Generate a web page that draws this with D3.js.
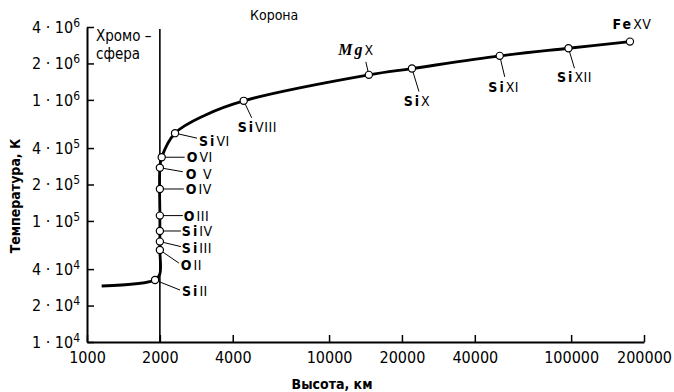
<!DOCTYPE html>
<html><head><meta charset="utf-8">
<script src="https://cdn.jsdelivr.net/npm/d3@7"></script>
<style>
html,body{margin:0;padding:0;background:#fff;}
svg{display:block;}
</style></head>
<body>
<svg id="chart" width="674" height="392"></svg>
<script>
// ---- data ----
const xTickValues = [1000, 2000, 4000, 10000, 20000, 40000, 100000, 200000];
const yTickValues = [1e4, 2e4, 4e4, 1e5, 2e5, 4e5, 1e6, 2e6, 4e6];

const ionNames   = ["Si II","O II","Si III","Si IV","O III","O IV","O  V","O VI","Si VI","Si VIII","Mg X","Si X","Si XI","Si XII","Fe XV"];
const ionHeights = [1910, 2000, 2000, 2000, 2000, 2000, 2000, 2035, 2310, 4440, 14600, 22000, 50700, 97500, 175000];
const ionTemps   = [32500, 57500, 67500, 82600, 110700, 183600, 275000, 336000, 531000, 982000, 1610000, 1815000, 2310000, 2670000, 3030000];

// traced temperature curve
const curveHeights = [1150, 1910, 2000, 2000, 2000, 2000, 2035, 2310, 3090, 4440, 14600, 22000, 50700, 97500, 175000];
const curveTemps   = [29000, 32500, 36500, 57500, 110000, 275000, 336000, 531000, 751000, 982000, 1610000, 1815000, 2310000, 2670000, 3030000];

const boundaryHeight = 2000;

// ---- layout ----
const FONT = "'DejaVu Sans Condensed','Liberation Sans Narrow',sans-serif";
const svg = d3.select("#chart");
svg.append("rect").attr("width",674).attr("height",392).attr("fill","#fff");

const x = d3.scaleLog().domain([1000, 200000]).range([87, 644]);
const y = d3.scaleLog().domain([1e4, 4e6]).range([342, 27]);

// x axis
const xAxis = d3.axisBottom(x).tickValues(xTickValues).tickFormat(d3.format("d"))
  .tickSizeInner(-7).tickSizeOuter(0).tickPadding(10);
const gx = svg.append("g").attr("transform","translate(0,342)").call(xAxis);
gx.select(".domain").attr("stroke","#000").attr("stroke-width",2);
gx.selectAll(".tick line").attr("stroke","#000").attr("stroke-width",1.5);
gx.selectAll(".tick text").attr("font-family",FONT).attr("font-size",16).attr("fill","#000");

// y axis
const yAxis = d3.axisLeft(y).tickValues(yTickValues).tickFormat("")
  .tickSizeInner(-7).tickSizeOuter(0);
const gy = svg.append("g").attr("transform","translate(87,0)").call(yAxis);
gy.select(".domain").attr("stroke","#000").attr("stroke-width",2);
gy.selectAll(".tick line").attr("stroke","#000").attr("stroke-width",1.5);
gy.selectAll(".tick").each(function(d){
  const e = Math.floor(Math.log10(d) + 1e-9);
  const m = Math.round(d / Math.pow(10, e));
  const t = d3.select(this).append("text")
    .attr("x",-7).attr("dy","0.32em").attr("text-anchor","end")
    .attr("font-family",FONT).attr("font-size",16).attr("fill","#000");
  t.append("tspan").text(m + " · 10");
  t.append("tspan").attr("dy","-0.5em").attr("font-size",12).text(e);
});

// chromosphere / corona boundary
svg.append("line")
  .attr("x1",x(boundaryHeight)).attr("x2",x(boundaryHeight))
  .attr("y1",29).attr("y2",342).attr("stroke","#000").attr("stroke-width",1.6);

// region labels
svg.append("text").attr("x",96).attr("y",41).attr("font-family",FONT).attr("font-size",15).text("Хромо –");
svg.append("text").attr("x",96).attr("y",59).attr("font-family",FONT).attr("font-size",15).text("сфера");
svg.append("text").attr("x",250).attr("y",20).attr("font-family",FONT).attr("font-size",14).text("Корона");

// axis titles
svg.append("text").attr("transform","translate(20,196) rotate(-90)").attr("text-anchor","middle")
  .attr("font-family",FONT).attr("font-size",14).attr("font-weight","bold").text("Температура, К");
svg.append("text").attr("x",332).attr("y",389).attr("text-anchor","middle")
  .attr("font-family",FONT).attr("font-size",14).attr("font-weight","bold").text("Высота, км");

// curve
const curvePts = curveHeights.map((h,i)=>[h, curveTemps[i]]);
const line = d3.line().x(d=>x(d[0])).y(d=>y(d[1])).curve(d3.curveCatmullRom.alpha(0.5));
svg.append("path").attr("d",line(curvePts)).attr("fill","none")
  .attr("stroke","#000").attr("stroke-width",2.8).attr("stroke-linejoin","round");

// label layout: [dx, dy, anchor, leaderDx, leaderDy]
const labelLayout = [
  [27, 11, "start", 25, 10],
  [21, 15, "start", 19, 13],
  [22, 6, "start", 21, 5],
  [22, 0, "start", 21, 0],
  [24, 0, "start", 23, 0],
  [26, 0, "start", 24, 0],
  [26, 6, "start", 23, 4],
  [25, 0, "start", 23, 0],
  [24, 8, "start", 22, 5],
  [-6, 26, "start", 8, 17],
  [-13, -25, "middle", -3, -13],
  [5, 32, "middle", 7, 23],
  [4, 31, "middle", 5, 21],
  [6, 29, "middle", 6, 20],
  [2, -18, "middle", null, null]
];

const ions = ionNames.map((n,i)=>({name:n, cx:x(ionHeights[i]), cy:y(ionTemps[i]), L:labelLayout[i]}));

svg.append("g").selectAll("line").data(ions.filter(d=>d.L[3]!==null)).join("line")
  .attr("x1",d=>d.cx).attr("y1",d=>d.cy)
  .attr("x2",d=>d.cx+d.L[3]).attr("y2",d=>d.cy+d.L[4])
  .attr("stroke","#000").attr("stroke-width",1);

svg.append("g").selectAll("circle").data(ions).join("circle")
  .attr("cx",d=>d.cx).attr("cy",d=>d.cy).attr("r",3.6)
  .attr("fill","#fff").attr("stroke","#000").attr("stroke-width",1.2);

const labels = svg.append("g").selectAll("text").data(ions).join("text")
  .attr("x",d=>d.cx+d.L[0]).attr("y",d=>d.cy+d.L[1]).attr("dy","0.36em")
  .attr("text-anchor",d=>d.L[2])
  .attr("font-family",FONT).attr("font-size",14).attr("fill","#000");
labels.each(function(d){
  const t = d3.select(this);
  const sym = d.name.split(" ")[0];
  const num = d.name.slice(sym.length).replace(/^ /,"");
  const s = t.append("tspan").text(sym).attr("letter-spacing",2).attr("font-weight","bold");
  if (sym === "Mg") s.attr("font-family","'Liberation Serif',serif").attr("font-style","italic").attr("font-size",16);
  t.append("tspan").text(num).attr("letter-spacing",0.5);
});
</script>
</body></html>
